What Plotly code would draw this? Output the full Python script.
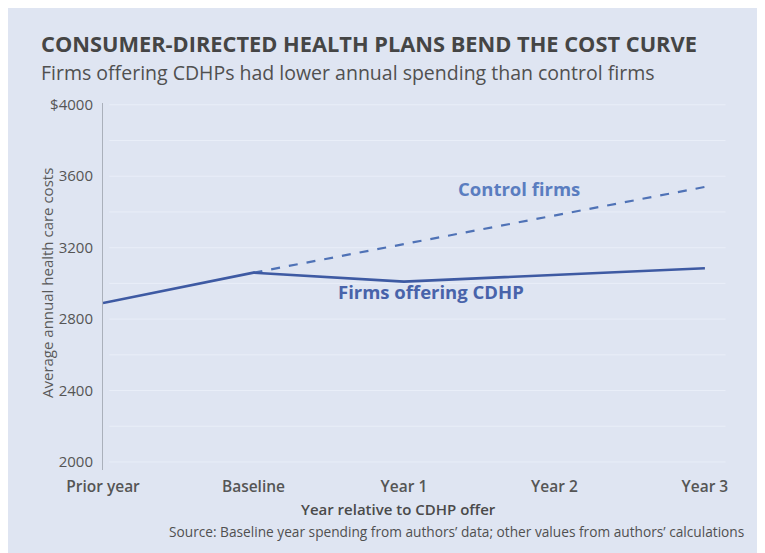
import plotly.graph_objects as go

categories = ["Prior year", "Baseline", "Year 1", "Year 2", "Year 3"]
cdhp_values = [2890, 3060, 3010, 3048, 3085]
control_categories = ["Baseline", "Year 1", "Year 2", "Year 3"]
control_values = [3060, 3220, 3380, 3540]
y_tick_vals = [2000, 2400, 2800, 3200, 3600, 4000]
y_tick_text = ["2000", "2400", "2800", "3200", "3600", "$4000"]

PANEL = "#dfe5f2"
W, H = 765, 553
OFF = 8  # page body margin
# plot area in page pixels: x 103..735, y 103..470
ML = 103 - OFF
MT = 103 - OFF
MR = W - (735 - OFF)
MB = H - (470 - OFF)
PW = W - ML - MR
PH = H - MT - MB

def px_x(p):
    return (p - OFF - ML) / PW

def px_y(p):
    return (H - MB - (p - OFF)) / PH

fig = go.Figure()

fig.add_trace(go.Scatter(
    x=control_categories, y=control_values, mode="lines",
    line=dict(color="#4f72b6", width=2.2, dash="dash"),
    hoverinfo="skip", showlegend=False,
))
fig.add_trace(go.Scatter(
    x=categories, y=cdhp_values, mode="lines",
    line=dict(color="#3e5aa3", width=2.6),
    hoverinfo="skip", showlegend=False,
))

fig.add_annotation(text="<b>CONSUMER-DIRECTED HEALTH PLANS BEND THE COST CURVE</b>",
                   xref="paper", yref="paper", x=px_x(39), y=px_y(44),
                   xanchor="left", yanchor="middle", showarrow=False,
                   font=dict(family="Open Sans", size=21.8, color="#454545"))
fig.add_annotation(text="Firms offering CDHPs had lower annual spending than control firms",
                   xref="paper", yref="paper", x=px_x(39), y=px_y(73),
                   xanchor="left", yanchor="middle", showarrow=False,
                   font=dict(family="Open Sans", size=19.5, color="#505050"))
fig.add_annotation(text="<b>Control firms</b>", x="Year 2", y=3530,
                   xanchor="center", yanchor="middle", showarrow=False, xshift=-35,
                   font=dict(family="Open Sans", size=18.5, color="#5a7dc0"))
fig.add_annotation(text="<b>Firms offering CDHP</b>", x="Year 1", y=2955,
                   xanchor="center", yanchor="middle", showarrow=False, xshift=27,
                   font=dict(family="Open Sans", size=18.5, color="#4863aa"))
fig.add_annotation(text="Year relative to CDHP offer",
                   xref="paper", yref="paper", x=px_x(398), y=px_y(509),
                   xanchor="center", yanchor="middle", showarrow=False,
                   font=dict(family="Open Sans", size=15, color="#4a4a4a", weight=600))
fig.add_annotation(text="Source: Baseline year spending from authors\u2019 data; other values from authors\u2019 calculations",
                   xref="paper", yref="paper", x=px_x(746), y=px_y(531),
                   xanchor="right", yanchor="middle", showarrow=False,
                   font=dict(family="Open Sans", size=13.7, color="#505050"))
fig.add_annotation(text="Average annual health care costs",
                   xref="paper", yref="paper", x=px_x(47), y=px_y(283),
                   xanchor="center", yanchor="middle", showarrow=False, textangle=-90,
                   font=dict(family="Open Sans", size=15, color="#5a5a5a"))

fig.update_layout(
    width=W, height=H,
    margin=dict(l=ML, r=MR, t=MT, b=MB, autoexpand=False),
    paper_bgcolor=PANEL, plot_bgcolor=PANEL,
    xaxis=dict(
        type="category", categoryorder="array", categoryarray=categories,
        range=[0, 4.2], showgrid=False, zeroline=False, showline=False,
        ticks="", tickfont=dict(family="Open Sans", size=15.5, color="#555555", weight=600),
        ticklabelstandoff=5, automargin=False,
    ),
    yaxis=dict(
        range=[1955, 4010], tickvals=y_tick_vals, ticktext=y_tick_text,
        showgrid=False, zeroline=False, showline=True, linecolor="#aab0bb", linewidth=1,
        ticks="", tickfont=dict(family="Open Sans", size=15, color="#555555"),
        ticklabelstandoff=6, automargin=False,
    ),
)

for v in range(2000, 4001, 200):
    fig.add_shape(type="line", xref="paper", yref="y", x0=0.01, x1=0.985, y0=v, y1=v,
                  line=dict(color="#e9eef8", width=1), layer="below")

fig.write_html("out.html")
